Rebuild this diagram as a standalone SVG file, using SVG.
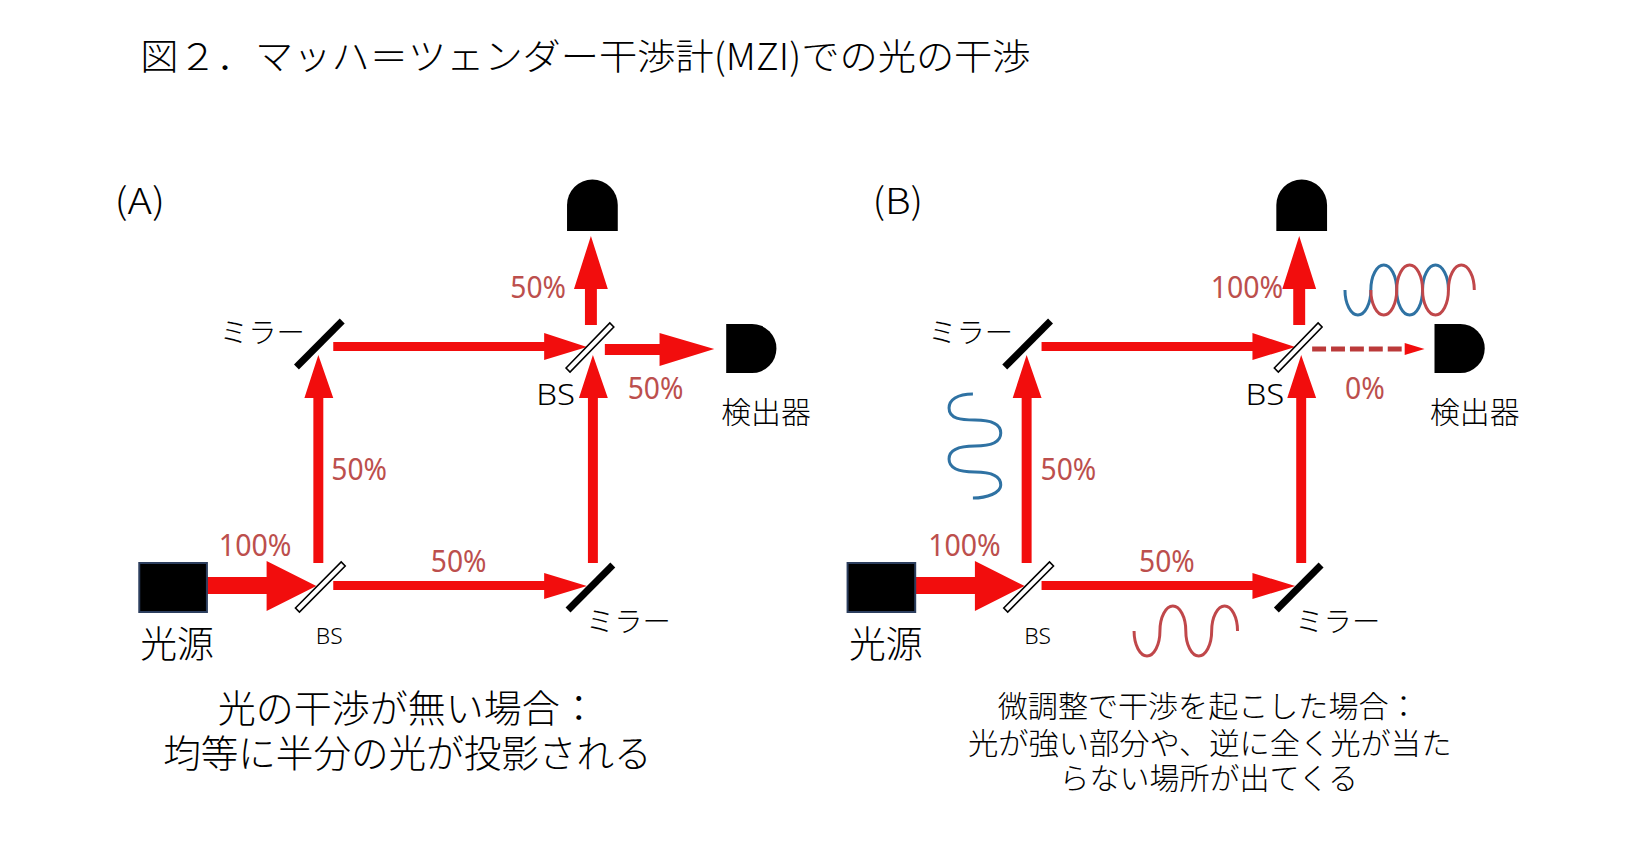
<svg xmlns="http://www.w3.org/2000/svg" width="1636" height="854" viewBox="0 0 1636 854">
<style>
text{font-family:"Noto Sans CJK JP","Noto Sans",sans-serif;font-weight:300;fill:#000}
.p{fill:#bc4f4d;font-family:"Noto Sans","Noto Sans CJK JP",sans-serif;font-size:30.5px;font-weight:400}
.b{fill:#f20d0d}
.d{fill:#000}
.m{stroke:#000;stroke-width:7;fill:none}
.s{stroke:#000;stroke-width:1.6;fill:#fff}
.src{fill:#000;stroke:#2c3e5e;stroke-width:2}
.wr{fill:none;stroke:#c0474a;stroke-width:3}
.wb{fill:none;stroke:#2f72a3;stroke-width:3}
.lbl{font-size:28.5px}
.bs{font-size:30px;font-family:"Noto Sans",sans-serif}
.bss{font-size:21px;font-family:"Noto Sans",sans-serif}
.det{font-size:30px}
.srct{font-size:37px}
</style>
<rect width="1636" height="854" fill="#fff"/>
<g id="figure" transform="scale(.9948 1)">
<text id="title" x="141" y="70" font-size="36.5" textLength="895" lengthAdjust="spacingAndGlyphs">図２．マッハ＝ツェンダー干渉計(MZI)での光の干渉</text>

<g id="connectors-a">
<polygon class="b" points="208,577 268,577 268,561 318,586 268,611 268,594 208,594"/>
<polygon class="b" points="315,563 325,563 325,398 335,398 320,355 306,398 315,398"/>
<polygon class="b" points="335,581 547,581 547,573 590,586 547,599 547,590 335,590"/>
<polygon class="b" points="591,563 601,563 601,398 611,398 596,355 582,398 591,398"/>
<polygon class="b" points="335,342 547,342 547,333 590,347 547,360 547,351 335,351"/>
<polygon class="b" points="588,325 600,325 600,289 611,289 594,236 577,289 588,289"/>
<polygon class="b" points="608,344 663,344 663,333 718,349 663,366 663,355 608,355"/>
</g>
<g id="connectors-b" transform="translate(712 0)">
<polygon class="b" points="208,577 268,577 268,561 318,586 268,611 268,594 208,594"/>
<polygon class="b" points="315,563 325,563 325,398 335,398 320,355 306,398 315,398"/>
<polygon class="b" points="335,581 547,581 547,573 590,586 547,599 547,590 335,590"/>
<polygon class="b" points="591,563 601,563 601,398 611,398 596,355 582,398 591,398"/>
<polygon class="b" points="335,342 547,342 547,333 590,347 547,360 547,351 335,351"/>
<polygon class="b" points="588,325 600,325 600,289 611,289 594,236 577,289 588,289"/>
<line x1="607" y1="349" x2="702" y2="349" stroke="#bb3a3a" stroke-width="5" stroke-dasharray="14 5"/>
<polygon class="b" points="700,343 720,349 700,355"/>
</g>

<g id="source-a"><rect class="src" x="140" y="563" width="68" height="49"/></g>
<g id="bs-a1"><polygon class="s" points="297,608 343,562 347,566 301,612"/></g>
<g id="mirror-a1"><line class="m" x1="298" y1="367" x2="344" y2="321"/></g>
<g id="bs-a2"><polygon class="s" points="569,368 613,323 617,327 573,372"/></g>
<g id="mirror-a2"><line class="m" x1="571" y1="610" x2="616" y2="565"/></g>
<g id="detector-a-top"><path class="d" d="M570 231V205A25.5 25.5 0 0 1 621 205V231Z"/></g>
<g id="detector-a-right"><path class="d" d="M730 324H756A24.5 24.5 0 0 1 756 373H730Z"/></g>

<g id="source-b"><rect class="src" x="852" y="563" width="68" height="49"/></g>
<g id="bs-b1"><polygon class="s" points="1009,608 1055,562 1059,566 1013,612"/></g>
<g id="mirror-b1"><line class="m" x1="1010" y1="367" x2="1056" y2="321"/></g>
<g id="bs-b2"><polygon class="s" points="1281,368 1325,323 1329,327 1285,372"/></g>
<g id="mirror-b2"><line class="m" x1="1283" y1="610" x2="1328" y2="565"/></g>
<g id="detector-b-top"><path class="d" d="M1283 231V205A25.5 25.5 0 0 1 1334 205V231Z"/></g>
<g id="detector-b-right"><path class="d" d="M1442 324H1468A24.5 24.5 0 0 1 1468 373H1442Z"/></g>

<g id="waves">
<path class="wb" d="M978 394C962 394 954 400 954 408C954 419 966 420 980 420C996 420 1006 423 1006 433C1006 443 996 446 980 446C964 446 954 450 954 459C954 469 966 472 980 472C996 472 1006 475 1006 485C1006 493 992 498 978 498"/>
<path class="wr" d="M1140 631c0 14 6 25 13 25s13-11 13-25s6-25 13-25s13 11 13 25s6 25 13 25s13-11 13-25s6-25 13-25s13 11 13 25"/>
<path class="wb" d="M1352 290c0 14 6 25 13 25s13-11 13-25s6-25 13-25s13 11 13 25s6 25 13 25s13-11 13-25s6-25 13-25s13 11 13 25"/>
<path class="wr" d="M1378 290c0 14 6 25 13 25s13-11 13-25s6-25 13-25s13 11 13 25s6 25 13 25s13-11 13-25s6-25 13-25s13 11 13 25"/>
</g>

<g id="labels-a">
<text x="115" y="214" font-size="36" textLength="51" lengthAdjust="spacingAndGlyphs">(A)</text>
<text class="lbl" x="221" y="343">ミラー</text>
<text class="lbl" x="589" y="632">ミラー</text>
<text class="bs" x="539" y="405" textLength="39" lengthAdjust="spacingAndGlyphs">BS</text>
<text class="bss" x="317.500" y="644" textLength="27" lengthAdjust="spacingAndGlyphs">BS</text>
<text class="det" x="725" y="423">検出器</text>
<text class="srct" x="141" y="658">光源</text>
<text class="p" x="513" y="298.5" textLength="56" lengthAdjust="spacingAndGlyphs">50%</text>
<text class="p" x="631" y="399.5" textLength="56" lengthAdjust="spacingAndGlyphs">50%</text>
<text class="p" x="333" y="480.5" textLength="56" lengthAdjust="spacingAndGlyphs">50%</text>
<text class="p" x="220" y="556.5" textLength="73" lengthAdjust="spacingAndGlyphs">100%</text>
<text class="p" x="433" y="572.500" textLength="56" lengthAdjust="spacingAndGlyphs">50%</text>
<text x="219" y="722" font-size="38" textLength="382" lengthAdjust="spacingAndGlyphs">光の干渉が無い場合：</text>
<text x="164" y="767" font-size="37.5" textLength="491" lengthAdjust="spacingAndGlyphs">均等に半分の光が投影される</text>
</g>
<g id="labels-b">
<text x="877" y="214" font-size="36" textLength="51" lengthAdjust="spacingAndGlyphs">(B)</text>
<text class="lbl" x="933" y="343">ミラー</text>
<text class="lbl" x="1302" y="632">ミラー</text>
<text class="bs" x="1252" y="405" textLength="39" lengthAdjust="spacingAndGlyphs">BS</text>
<text class="bss" x="1029.500" y="644" textLength="27" lengthAdjust="spacingAndGlyphs">BS</text>
<text class="det" x="1437.500" y="423">検出器</text>
<text class="srct" x="853.500" y="658">光源</text>
<text class="p" x="1217" y="298.5" textLength="73" lengthAdjust="spacingAndGlyphs">100%</text>
<text class="p" x="1352" y="399.5" textLength="40" lengthAdjust="spacingAndGlyphs">0%</text>
<text class="p" x="1046" y="480.5" textLength="56" lengthAdjust="spacingAndGlyphs">50%</text>
<text class="p" x="933" y="556.5" textLength="73" lengthAdjust="spacingAndGlyphs">100%</text>
<text class="p" x="1145" y="572.500" textLength="56" lengthAdjust="spacingAndGlyphs">50%</text>
<text x="1003" y="717" font-size="30" textLength="423" lengthAdjust="spacingAndGlyphs">微調整で干渉を起こした場合：</text>
<text x="973" y="754" font-size="30" textLength="486" lengthAdjust="spacingAndGlyphs">光が強い部分や、逆に全く光が当た</text>
<text x="1065" y="789" font-size="30" textLength="300" lengthAdjust="spacingAndGlyphs">らない場所が出てくる</text>
</g>
</g>
</svg>
